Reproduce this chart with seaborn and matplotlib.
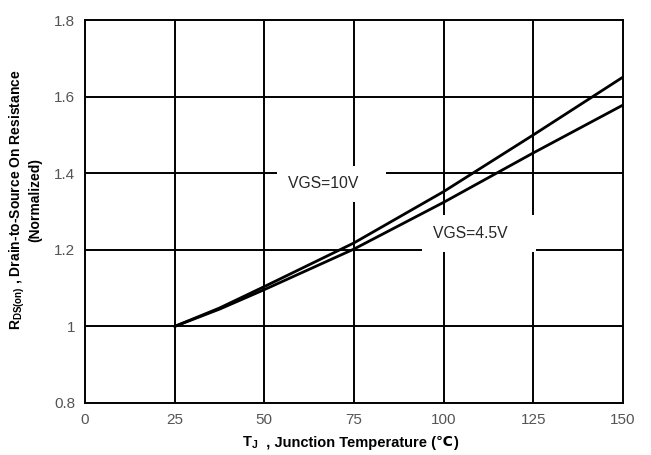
import matplotlib
matplotlib.use("Agg")
import matplotlib.pyplot as plt
import seaborn as sns
import pandas as pd

temp = [25, 37.5, 50, 75, 100, 125, 150]
r_vgs10 = [1.00, 1.048, 1.104, 1.218, 1.352, 1.500, 1.651]
r_vgs45 = [1.00, 1.045, 1.096, 1.202, 1.324, 1.453, 1.578]
x_ticks = [0, 25, 50, 75, 100, 125, 150]
y_ticks = [0.8, 1.0, 1.2, 1.4, 1.6, 1.8]
y_ticklabels = ["0.8", "1", "1.2", "1.4", "1.6", "1.8"]

sns.set_theme(style="white")
plt.rcParams['font.family'] = ['Liberation Sans', 'DejaVu Sans']
plt.rcParams['mathtext.fontset'] = 'custom'
plt.rcParams['mathtext.rm'] = 'Liberation Sans:bold'

df = pd.concat([
    pd.DataFrame({"T": temp, "R": r_vgs10, "s": "VGS=10V"}),
    pd.DataFrame({"T": temp, "R": r_vgs45, "s": "VGS=4.5V"}),
])

fig = plt.figure(figsize=(6.51, 4.55), dpi=100)
ax = fig.add_axes([85/651, 52/455, 538/651, 383/455])

for x in x_ticks[1:-1]:
    ax.axvline(x, color="black", lw=1.4, zorder=1)
for y in y_ticks[1:-1]:
    ax.axhline(y, color="black", lw=1.4, zorder=1)

sns.lineplot(data=df, x="T", y="R", units="s", estimator=None, color="black",
             lw=2.0, ax=ax, legend=False, zorder=3)

ax.text(56.5, 1.372, "VGS=10V    ", fontsize=11.3, ha="left", va="center", zorder=2,
        bbox=dict(facecolor="white", edgecolor="none", pad=7.5))
ax.text(97.0, 1.243, "VGS=4.5V    ", fontsize=11.3, ha="left", va="center", zorder=2,
        bbox=dict(facecolor="white", edgecolor="none", pad=8))

ax.set_xlim(0, 150)
ax.set_ylim(0.8, 1.8)
ax.set_xticks(x_ticks)
ax.set_yticks(y_ticks)
ax.set_yticklabels(y_ticklabels)
ax.tick_params(axis="both", colors="#555555", labelsize=11, length=0, pad=7)
for sp in ax.spines.values():
    sp.set_color("black")
    sp.set_linewidth(1.4)

ax.set_xlabel("")

# x label built from pieces so the small "J" and the ℃ sign render
t1 = fig.text(243/651, 1 - 446.5/455, "T", fontsize=10.5, fontweight="bold",
              color="black", ha="left", va="baseline")
t2 = ax.annotate("J", xy=(1, 0), xycoords=t1, xytext=(0.3, 0), textcoords="offset points",
                 fontsize=7.5, fontweight="bold", color="black", ha="left", va="bottom",
                 annotation_clip=False)
t3 = ax.annotate("  , Junction Temperature (", xy=(1, 0), xycoords=t2,
                 fontsize=10.5, fontweight="bold", color="black", ha="left", va="bottom",
                 annotation_clip=False)
t4 = ax.annotate("℃", xy=(1, 0), xycoords=t3, fontsize=10, fontweight="bold",
                 family=["DejaVu Sans"], color="black", ha="left", va="bottom",
                 annotation_clip=False)
t5 = ax.annotate(")", xy=(1, 0), xycoords=t4, fontsize=10.5, fontweight="bold",
                 color="black", ha="left", va="bottom", annotation_clip=False)

ax.set_ylabel("R$_{\\mathrm{DS(on)}}$ , Drain-to-Source On Resistance\n(Normalized)",
              fontsize=10, fontweight="bold", color="black",
              linespacing=1.1)
ax.yaxis.set_label_coords(-0.080, 0.53)

fig.savefig("out.png", dpi=100)
